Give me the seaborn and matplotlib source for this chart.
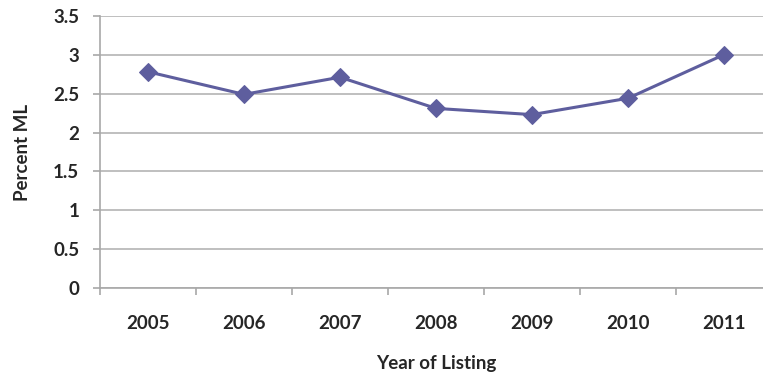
import numpy as np
import pandas as pd
import seaborn as sns
import matplotlib.pyplot as plt
from matplotlib.ticker import FixedLocator

years = [2005, 2006, 2007, 2008, 2009, 2010, 2011]
percent_ml = [2.78, 2.49, 2.71, 2.31, 2.23, 2.44, 3.00]

df = pd.DataFrame({'year': years, 'pct': percent_ml})

sns.set_style('white')
plt.rcParams['font.family'] = ['Lato', 'DejaVu Sans']

fig = plt.figure(figsize=(7.63, 3.89), dpi=100)
ax = fig.add_axes([100 / 763, 1 - 288.3 / 389, 672 / 763, 272.6 / 389])

sns.lineplot(data=df, x='year', y='pct', color='#5E5E9E', linewidth=2.2,
             marker='D', markersize=9.5, markeredgecolor='#5E5E9E', ax=ax)

ax.set_xlim(years[0] - 0.5, years[-1] + 0.5)
ax.set_ylim(0, 3.5)
ax.set_yticks(np.arange(0, 3.51, 0.5))
ax.set_yticklabels(['0', '0.5', '1', '1.5', '2', '2.5', '3', '3.5'])
ax.set_xticks(years)
ax.set_xticklabels([str(y) for y in years])
ax.xaxis.set_minor_locator(FixedLocator([y - 0.5 for y in years]))

ax.grid(axis='y', color='#B4B4B4', linewidth=1.2)
ax.set_axisbelow(True)
for side in ['top', 'right']:
    ax.spines[side].set_visible(False)
for side in ['left', 'bottom']:
    ax.spines[side].set_color('#A8A8A8')
    ax.spines[side].set_linewidth(1.2)

ax.tick_params(axis='x', which='major', length=0, pad=19, labelsize=13.5)
ax.tick_params(axis='x', which='minor', length=5, width=1.2, color='#A8A8A8', bottom=True)
ax.tick_params(axis='y', length=5, width=1.2, color='#A8A8A8', left=True, pad=10, labelsize=13.5)
for lbl in ax.get_xticklabels() + ax.get_yticklabels():
    lbl.set_fontweight('bold')

ax.set_xlabel('Year of Listing', fontsize=13.5, fontweight='bold', labelpad=17)
ax.set_ylabel('Percent ML', fontsize=13.5, fontweight='bold', labelpad=16)

plt.savefig('out.png', dpi=100)
